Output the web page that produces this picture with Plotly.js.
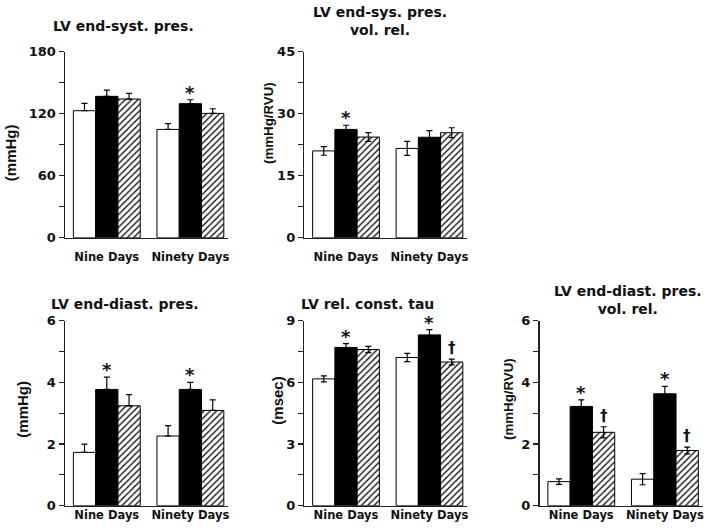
<!DOCTYPE html>
<html>
<head>
<meta charset="utf-8">
<script src="https://cdn.plot.ly/plotly-3.0.1.min.js"></script>
<style>
html,body{margin:0;padding:0;background:#fff;}
#chart{width:709px;height:532px;}
</style>
</head>
<body>
<div id="chart"></div>
<script>
// ---------- data ----------
const categories = ['Nine Days', 'Ninety Days'];

// Panel 1: LV end-syst. pres. (mmHg)
const p1Open = [122.9, 104.8];      const p1OpenErr = [7.1, 5.5];
const p1Solid = [136.8, 129.7];     const p1SolidErr = [6.1, 3.8];
const p1Hatched = [134.2, 120.3];   const p1HatchedErr = [5.5, 4.5];
const p1Marks = [['*', 'solid', 1]];

// Panel 2: LV end-sys. pres. vol. rel. (mmHg/RVU)
const p2Open = [21.0, 21.6];        const p2OpenErr = [1.05, 1.7];
const p2Solid = [26.2, 24.3];       const p2SolidErr = [1.0, 1.6];
const p2Hatched = [24.35, 25.4];    const p2HatchedErr = [1.05, 1.2];
const p2Marks = [['*', 'solid', 0]];

// Panel 3: LV end-diast. pres. (mmHg)
const p3Open = [1.73, 2.26];        const p3OpenErr = [0.27, 0.34];
const p3Solid = [3.77, 3.77];       const p3SolidErr = [0.40, 0.23];
const p3Hatched = [3.24, 3.09];     const p3HatchedErr = [0.36, 0.34];
const p3Marks = [['*', 'solid', 0], ['*', 'solid', 1]];

// Panel 4: LV rel. const. tau (msec)
const p4Open = [6.17, 7.21];        const p4OpenErr = [0.15, 0.20];
const p4Solid = [7.70, 8.31];       const p4SolidErr = [0.18, 0.26];
const p4Hatched = [7.60, 6.99];     const p4HatchedErr = [0.15, 0.14];
const p4Marks = [['*', 'solid', 0], ['*', 'solid', 1], ['\u2020', 'hatched', 1]];

// Panel 5: LV end-diast. pres. vol. rel. (mmHg/RVU)
const p5Open = [0.78, 0.86];        const p5OpenErr = [0.09, 0.18];
const p5Solid = [3.22, 3.63];       const p5SolidErr = [0.21, 0.24];
const p5Hatched = [2.38, 1.79];     const p5HatchedErr = [0.18, 0.11];
const p5Marks = [['*', 'solid', 0], ['*', 'solid', 1], ['\u2020', 'hatched', 0], ['\u2020', 'hatched', 1]];

const titles = ['LV end-syst. pres.', 'LV end-sys. pres.<br>vol. rel.', 'LV end-diast. pres.', 'LV rel. const. tau', 'LV end-diast. pres.<br>vol. rel.'];
const yTitles = ['(mmHg)', '(mmHg/RVU)', '(mmHg)', '(msec)', '(mmHg/RVU)'];
const yMax = [180, 45, 6, 9, 6];
const yMajor = [60, 15, 2, 3, 2];
const yMinor = [30, 7.5, 1, 1.5, 1];

// ---------- layout geometry ----------
const W = 709, H = 532;
const BOLD = 'DejaVu Sans, Arial, sans-serif';
const ROT = 'Liberation Sans, Arial, sans-serif';
const INK = '#111';
const geom = [
  {x0: 65, x1: 228, y0: 51.7, y1: 237.7, standoff: 8, upperOnly: true,
   title: [123.3, 26], ytitle: [10.7, 152.5], ytSize: 15},
  {x0: 304.3, x1: 467, y0: 51.7, y1: 237.7, standoff: 8, upperOnly: false,
   title: [380, 21], ytitle: [269, 123], ytSize: 13.3},
  {x0: 65, x1: 228, y0: 320.7, y1: 505.7, standoff: -2, upperOnly: true,
   title: [125, 304], ytitle: [21.7, 409], ytSize: 15},
  {x0: 304.3, x1: 467, y0: 320.7, y1: 505.7, standoff: -2, upperOnly: false,
   title: [367.5, 304], ytitle: [276.7, 401], ytSize: 15},
  {x0: 539.5, x1: 702.5, y0: 320.7, y1: 505.7, standoff: -2, upperOnly: false,
   title: [627.5, 300], ytitle: [508.3, 398.7], ytSize: 13.3}
];

const panels = [
  {open: p1Open, openErr: p1OpenErr, solid: p1Solid, solidErr: p1SolidErr, hatched: p1Hatched, hatchedErr: p1HatchedErr, marks: p1Marks},
  {open: p2Open, openErr: p2OpenErr, solid: p2Solid, solidErr: p2SolidErr, hatched: p2Hatched, hatchedErr: p2HatchedErr, marks: p2Marks},
  {open: p3Open, openErr: p3OpenErr, solid: p3Solid, solidErr: p3SolidErr, hatched: p3Hatched, hatchedErr: p3HatchedErr, marks: p3Marks},
  {open: p4Open, openErr: p4OpenErr, solid: p4Solid, solidErr: p4SolidErr, hatched: p4Hatched, hatchedErr: p4HatchedErr, marks: p4Marks},
  {open: p5Open, openErr: p5OpenErr, solid: p5Solid, solidErr: p5SolidErr, hatched: p5Hatched, hatchedErr: p5HatchedErr, marks: p5Marks}
];

const BARGAP = 0.2;
const barW = (1 - BARGAP) / 3;
const offsets = {open: -barW, solid: 0, hatched: barW};

const traces = [];
const annotations = [];
const layout = {
  width: W, height: H,
  margin: {l: 0, r: 0, t: 0, b: 0, pad: 0},
  paper_bgcolor: '#fff', plot_bgcolor: '#fff',
  barmode: 'group', bargap: BARGAP, bargroupgap: 0,
  showlegend: false,
  font: {family: BOLD, color: INK, weight: 'bold'}
};

function errSpec(vals, upperOnly) {
  const e = {type: 'data', array: vals, color: '#000', thickness: 1.2, width: 3, visible: true};
  if (upperOnly) { e.symmetric = false; e.arrayminus = vals.map(() => 0); }
  return e;
}

panels.forEach((p, i) => {
  const n = i + 1;
  const g = geom[i];
  const xa = 'x' + (n === 1 ? '' : n), ya = 'y' + (n === 1 ? '' : n);
  const common = {type: 'bar', x: categories, xaxis: xa, yaxis: ya, hoverinfo: 'skip'};
  traces.push(Object.assign({}, common, {
    y: p.open, error_y: errSpec(p.openErr, g.upperOnly),
    marker: {color: '#fff', line: {color: '#000', width: 1}}
  }));
  traces.push(Object.assign({}, common, {
    y: p.solid, error_y: errSpec(p.solidErr, g.upperOnly),
    marker: {color: '#000', line: {color: '#000', width: 1}}
  }));
  traces.push(Object.assign({}, common, {
    y: p.hatched, error_y: errSpec(p.hatchedErr, g.upperOnly),
    marker: {color: '#fff', line: {color: '#000', width: 1},
             pattern: {shape: '/', fgcolor: '#000', bgcolor: '#fff', size: 4.5, solidity: 0.28}}
  }));

  layout['xaxis' + (n === 1 ? '' : n)] = {
    domain: [g.x0 / W, g.x1 / W], anchor: ya, type: 'category',
    range: [-0.5, 1.45], fixedrange: true,
    showline: true, linecolor: '#222', linewidth: 1.5,
    ticks: '', showgrid: false, zeroline: false,
    ticklabelstandoff: g.standoff,
    tickfont: {family: BOLD, size: 11.5, color: INK, weight: 'bold'}
  };
  layout['yaxis' + (n === 1 ? '' : n)] = {
    domain: [1 - g.y1 / H, 1 - g.y0 / H], anchor: xa,
    range: [0, yMax[i]], fixedrange: true,
    showline: true, linecolor: '#222', linewidth: 1.5,
    ticks: 'outside', ticklen: 5, tickwidth: 1.2, tickcolor: '#222',
    tick0: 0, dtick: yMajor[i],
    minor: {tick0: 0, dtick: yMinor[i], ticks: 'outside', ticklen: 5, tickwidth: 1.2, tickcolor: '#222', showgrid: false},
    showgrid: false, zeroline: false,
    tickfont: {family: BOLD, size: 13, color: INK, weight: 'bold'}
  };

  // panel title
  annotations.push({
    xref: 'paper', yref: 'paper', x: g.title[0] / W, y: 1 - g.title[1] / H,
    xanchor: 'center', yanchor: 'middle', showarrow: false,
    text: titles[i], font: {family: BOLD, size: 14, color: INK, weight: 'bold'}
  });
  // y-axis title
  annotations.push({
    xref: 'paper', yref: 'paper', x: g.ytitle[0] / W, y: 1 - g.ytitle[1] / H,
    xanchor: 'center', yanchor: 'middle', showarrow: false, textangle: -90,
    text: yTitles[i], font: {family: ROT, size: g.ytSize, color: INK, weight: 'bold'}
  });
  // significance marks
  p.marks.forEach(m => {
    const [sym, grp, ci] = m;
    const top = p[grp][ci] + p[grp + 'Err'][ci];
    const isStar = sym === '*';
    annotations.push({
      xref: xa, yref: ya, x: ci + offsets[grp], y: top,
      xanchor: 'center', yanchor: 'bottom', showarrow: false,
      yshift: isStar ? -5 : 0,
      text: sym, font: {family: BOLD, size: isStar ? 18 : 15, color: INK, weight: 'bold'}
    });
  });
});
layout.annotations = annotations;

Plotly.newPlot('chart', traces, layout, {staticPlot: true, displayModeBar: false});
</script>
</body>
</html>
